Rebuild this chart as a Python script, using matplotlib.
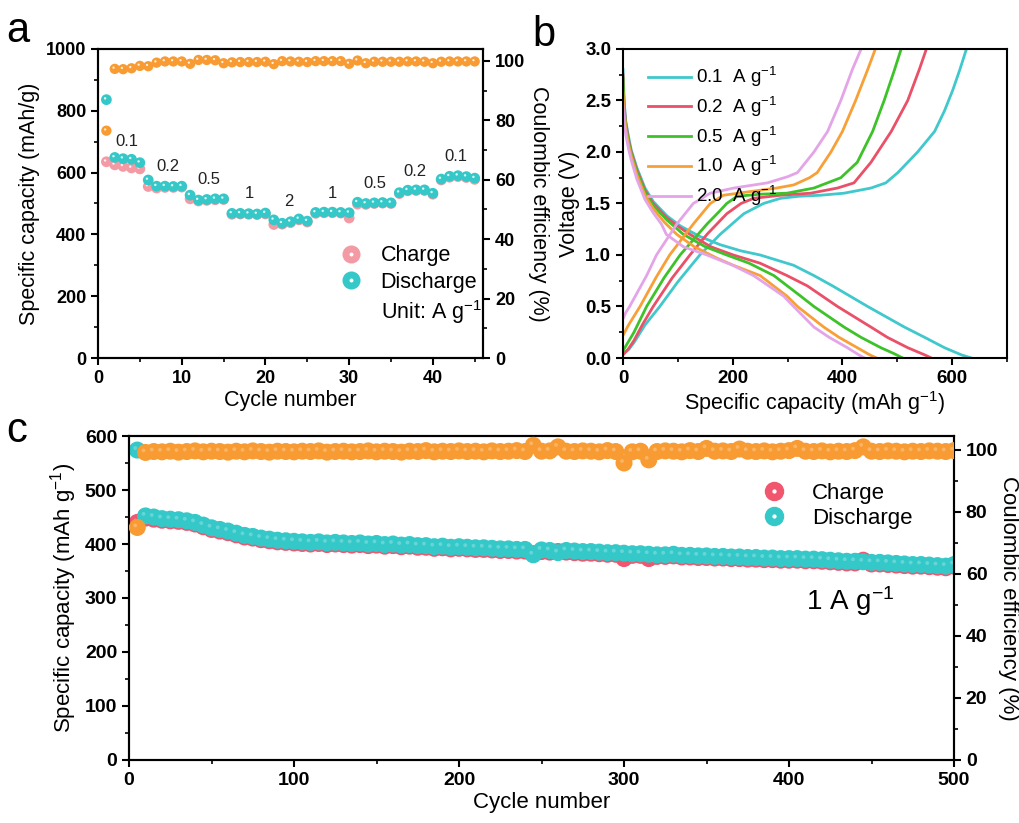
import matplotlib
matplotlib.use('Agg')
import matplotlib.pyplot as plt
from matplotlib.lines import Line2D
from matplotlib.legend_handler import HandlerTuple
from matplotlib.ticker import MultipleLocator, FormatStrFormatter
from matplotlib.transforms import offset_copy

plt.rcParams['font.family'] = ['Liberation Sans', 'DejaVu Sans']
plt.rcParams['mathtext.fontset'] = 'custom'
plt.rcParams['mathtext.rm'] = 'Liberation Sans'
plt.rcParams['mathtext.it'] = 'Liberation Sans:italic'
plt.rcParams['mathtext.bf'] = 'Liberation Sans:bold'

TEAL = '#35C8C8'
ORANGE = '#F89B32'
PINK = '#F49AA4'
RED = '#F0566E'

# ---- panel a: rate performance ----
cyc_a = list(range(1, 46))
dis_a = [836, 649, 645, 643, 632, 576, 556, 556, 555, 556,
         527, 511, 513, 515, 515, 468, 468, 467, 466, 469,
         447, 436, 441, 450, 443, 471, 472, 472, 471, 470,
         504, 500, 502, 503, 502, 535, 543, 544, 544, 533,
         579, 588, 590, 587, 582]
chg_a = [635, 625, 620, 615, 612, 555, 550, 552, 552, 553,
         515, 508, 510, 512, 513, 465, 466, 465, 464, 466,
         432, 433, 438, 447, 440, 468, 470, 470, 469, 453,
         498, 497, 500, 501, 500, 532, 541, 542, 542, 530,
         576, 585, 587, 584, 578]
ce_a = [76.5, 97.3, 97.2, 97.5, 98.3, 98.2, 99.4, 99.8, 99.8, 99.8,
        99.0, 100.3, 100.3, 100.2, 99.2, 99.5, 99.6, 99.6, 99.6, 99.7,
        98.9, 99.9, 99.8, 99.7, 99.6, 99.9, 99.9, 99.9, 99.9, 99.0,
        100.1, 99.2, 99.7, 99.7, 99.7, 99.7, 99.8, 99.8, 99.7, 99.2,
        99.7, 99.8, 99.8, 99.8, 99.8]
rate_labels = ['0.1', '0.2', '0.5', '1', '2', '1', '0.5', '0.2', '0.1']
rate_x = [3.4, 8.4, 13.3, 18.1, 22.8, 28.0, 33.1, 37.9, 42.7]
rate_y = [700, 619, 579, 533, 508, 531, 565, 605, 651]

# ---- panel b: charge/discharge profiles ----
rates_b = ['0.1', '0.2', '0.5', '1.0', '2.0']
colors_b = ['#40C8CC', '#EA5068', '#3EC22A', '#F8A038', '#E4A4E8']
dis_cap_01 = [0, 2, 5, 10, 15, 25, 40, 55, 80, 105, 140, 177, 215, 250, 311, 348, 382, 446, 513, 550, 586, 617, 635]
dis_v_01 = [2.8, 2.5, 2.3, 2.15, 2.02, 1.85, 1.65, 1.52, 1.38, 1.28, 1.18, 1.1, 1.04, 1.0, 0.9, 0.8, 0.7, 0.5, 0.3, 0.2, 0.1, 0.03, 0.0]
dis_cap_02 = [0, 2, 5, 10, 15, 25, 40, 55, 80, 100, 122, 160, 201, 250, 299, 336, 391, 452, 482, 519, 550, 562]
dis_v_02 = [2.75, 2.45, 2.28, 2.12, 2.0, 1.83, 1.63, 1.5, 1.36, 1.28, 1.2, 1.08, 1.0, 0.92, 0.8, 0.7, 0.5, 0.3, 0.2, 0.1, 0.03, 0.0]
dis_cap_05 = [0, 2, 5, 10, 15, 25, 40, 55, 80, 110, 150, 189, 230, 275, 324, 348, 403, 434, 470, 495, 510]
dis_v_05 = [2.72, 2.42, 2.25, 2.1, 1.98, 1.81, 1.61, 1.48, 1.34, 1.2, 1.08, 1.0, 0.92, 0.8, 0.6, 0.5, 0.3, 0.2, 0.1, 0.04, 0.0]
dis_cap_10 = [0, 2, 5, 10, 15, 25, 40, 55, 75, 98, 130, 171, 201, 250, 299, 318, 366, 394, 427, 450, 462]
dis_v_10 = [2.58, 2.38, 2.22, 2.07, 1.96, 1.78, 1.58, 1.45, 1.32, 1.2, 1.08, 0.97, 0.9, 0.8, 0.6, 0.5, 0.3, 0.2, 0.1, 0.03, 0.0]
dis_cap_20 = [0, 2, 5, 10, 15, 25, 40, 55, 70, 79, 110, 153, 200, 238, 293, 311, 348, 376, 409, 430, 440]
dis_v_20 = [2.45, 2.3, 2.17, 2.03, 1.92, 1.74, 1.54, 1.41, 1.3, 1.2, 1.08, 1.0, 0.9, 0.8, 0.6, 0.5, 0.3, 0.2, 0.1, 0.03, 0.0]
chg_cap_01 = [0, 10, 20, 40, 67, 100, 140, 177, 220, 256, 287, 320, 360, 403, 452, 479, 501, 537, 568, 586, 601, 614, 626]
chg_v_01 = [0.04, 0.08, 0.15, 0.32, 0.5, 0.74, 1.0, 1.2, 1.4, 1.5, 1.55, 1.57, 1.58, 1.6, 1.65, 1.7, 1.8, 2.0, 2.2, 2.4, 2.6, 2.8, 3.0]
chg_cap_02 = [0, 10, 20, 35, 55, 90, 122, 153, 189, 215, 238, 287, 342, 391, 421, 452, 489, 519, 540, 553]
chg_v_02 = [0.03, 0.09, 0.17, 0.32, 0.5, 0.78, 1.0, 1.2, 1.4, 1.5, 1.55, 1.58, 1.6, 1.65, 1.7, 1.9, 2.2, 2.5, 2.8, 3.0]
chg_cap_05 = [0, 10, 20, 43, 75, 104, 153, 175, 189, 208, 250, 299, 348, 397, 427, 455, 476, 495, 507]
chg_v_05 = [0.07, 0.16, 0.25, 0.5, 0.78, 1.0, 1.3, 1.42, 1.5, 1.57, 1.59, 1.6, 1.65, 1.75, 1.9, 2.2, 2.5, 2.8, 3.0]
chg_cap_10 = [0, 10, 31, 60, 85, 128, 159, 183, 238, 280, 311, 340, 354, 379, 400, 424, 446, 460]
chg_v_10 = [0.22, 0.32, 0.5, 0.78, 1.0, 1.3, 1.5, 1.58, 1.62, 1.65, 1.68, 1.75, 1.8, 2.0, 2.2, 2.5, 2.8, 3.0]
chg_cap_20 = [0, 5, 12, 43, 61, 98, 128, 159, 202, 263, 300, 318, 348, 373, 397, 418, 434]
chg_v_20 = [0.38, 0.44, 0.5, 0.8, 1.0, 1.3, 1.5, 1.6, 1.65, 1.7, 1.76, 1.8, 2.0, 2.2, 2.5, 2.8, 3.0]
dis_caps = [dis_cap_01, dis_cap_02, dis_cap_05, dis_cap_10, dis_cap_20]
dis_vs = [dis_v_01, dis_v_02, dis_v_05, dis_v_10, dis_v_20]
chg_caps = [chg_cap_01, chg_cap_02, chg_cap_05, chg_cap_10, chg_cap_20]
chg_vs = [chg_v_01, chg_v_02, chg_v_05, chg_v_10, chg_v_20]

# ---- panel c: long cycling at 1 A/g (every 5th cycle) ----
cyc_c = list(range(5, 501, 5))
dis_c = [574, 452, 450, 447, 446, 445, 443, 440, 435, 430,
         427, 424, 420, 416, 414, 411, 409, 407, 406, 405,
         404, 403, 404, 402, 403, 402, 401, 402, 400, 401,
         399, 400, 398, 399, 397, 397, 395, 396, 394, 395,
         394, 393, 393, 392, 391, 391, 390, 390, 380, 389,
         388, 384, 388, 387, 386, 386, 385, 384, 384, 383,
         382, 382, 381, 380, 380, 381, 379, 379, 378, 378,
         377, 377, 376, 376, 375, 375, 374, 374, 373, 373,
         373, 372, 372, 371, 370, 369, 368, 368, 367, 366,
         366, 365, 364, 363, 362, 362, 361, 360, 359, 362]
chg_c = [440, 448, 446, 444, 443, 442, 440, 437, 432, 427,
         424, 421, 417, 413, 411, 408, 406, 404, 403, 402,
         401, 400, 401, 399, 400, 399, 398, 399, 397, 398,
         396, 397, 395, 396, 394, 394, 392, 393, 391, 392,
         391, 390, 390, 389, 388, 388, 387, 387, 382, 386,
         385, 386, 385, 384, 383, 383, 382, 381, 381, 373,
         379, 379, 373, 377, 377, 378, 376, 376, 375, 375,
         374, 374, 373, 373, 372, 372, 371, 371, 370, 370,
         370, 369, 369, 368, 367, 366, 365, 365, 370, 363,
         363, 362, 361, 360, 359, 359, 358, 357, 356, 359]
ce_c = [75.0, 99.2, 99.5, 99.4, 99.6, 99.3, 99.5, 99.7, 99.4, 99.6,
        99.5, 99.3, 99.6, 99.4, 99.7, 99.5, 99.3, 99.6, 99.5, 99.4,
        99.6, 99.5, 99.7, 99.3, 99.5, 99.6, 99.4, 99.5, 99.7, 99.4,
        99.6, 99.5, 99.3, 99.6, 99.5, 99.8, 99.4, 99.6, 99.5, 99.7,
        99.5, 99.6, 99.4, 99.7, 99.5, 99.6, 99.8, 99.5, 101.5, 99.6,
        99.7, 101.0, 99.6, 99.5, 99.7, 99.6, 99.4, 99.8, 99.5, 95.8,
        99.4, 99.6, 96.8, 99.5, 99.7, 99.6, 99.4, 99.8, 99.5, 100.5,
        99.6, 99.7, 99.5, 100.3, 99.6, 99.5, 99.7, 99.4, 99.6, 99.8,
        100.5, 99.6, 99.5, 99.7, 99.4, 99.6, 99.5, 99.8, 101.0, 99.6,
        99.5, 99.7, 99.6, 99.4, 99.6, 99.5, 99.7, 99.6, 99.5, 99.8]


def balls(ax, x, y, color, s, z, hl=0.85):
    # coloured sphere with a small off-centre highlight
    d = s ** 0.5
    ax.scatter(x, y, s=s, color=color, edgecolors='none', zorder=z)
    tr = offset_copy(ax.transData, fig=ax.figure, x=-0.12 * d, y=0.12 * d, units='points')
    ax.scatter(x, y, s=s * 0.05, color='white', alpha=hl, edgecolors='none', zorder=z + 0.1, transform=tr)


def ball_handle(color, ms):
    base = Line2D([], [], marker='o', linestyle='none', markersize=ms, color=color, markeredgewidth=0)
    hl = Line2D([], [], marker='o', linestyle='none', markersize=ms * 0.22, color='white', markeredgewidth=0)
    return (base, hl)


def style_axis(ax, labelsize):
    for sp in ax.spines.values():
        sp.set_linewidth(1.5)
    ax.tick_params(which='major', direction='out', length=5, width=1.5, labelsize=labelsize)
    ax.tick_params(which='minor', direction='out', length=3, width=1.2)
    for lab in ax.get_xticklabels() + ax.get_yticklabels():
        lab.set_fontweight('bold')


fig = plt.figure(figsize=(10.2, 8.23), dpi=100)

# ---------------- a ----------------
ax_a = fig.add_axes([0.0961, 0.565, 0.3775, 0.3755])
ax_a2 = ax_a.twinx()
balls(ax_a, cyc_a, chg_a, PINK, 60, 3)
balls(ax_a, cyc_a, dis_a, TEAL, 60, 4)
balls(ax_a2, cyc_a, ce_a, ORANGE, 55, 3)
ax_a.set_xlim(0, 46)
ax_a.set_ylim(0, 1000)
ax_a2.set_ylim(0, 104)
ax_a.xaxis.set_major_locator(MultipleLocator(10))
ax_a.xaxis.set_minor_locator(MultipleLocator(5))
ax_a.yaxis.set_major_locator(MultipleLocator(200))
ax_a.yaxis.set_minor_locator(MultipleLocator(100))
ax_a2.yaxis.set_major_locator(MultipleLocator(20))
ax_a2.yaxis.set_minor_locator(MultipleLocator(10))
ax_a.set_xlabel('Cycle number', fontsize=15.5, labelpad=2)
ax_a.set_ylabel('Specific capacity (mAh/g)', fontsize=15.5, labelpad=4)
ax_a2.set_ylabel('Coulombic efficiency (%)', fontsize=15.5, rotation=270, labelpad=17)
style_axis(ax_a, 13)
style_axis(ax_a2, 13)
for lab, x, y in zip(rate_labels, rate_x, rate_y):
    ax_a.text(x, y, lab, fontsize=12, ha='center', va='center', color='#222222')
leg_a = ax_a.legend([ball_handle(PINK, 13), ball_handle(TEAL, 13), Line2D([], [], linestyle='none')],
                    ['Charge', 'Discharge', 'Unit: A g$^{-1}$'],
                    handler_map={tuple: HandlerTuple(ndivide=1)},
                    loc='upper left', bbox_to_anchor=(0.6, 0.40), frameon=False,
                    fontsize=15.5, handlelength=1.0, handletextpad=0.9, labelspacing=0.25,
                    borderpad=0)
leg_a.set_zorder(10)

# ---------------- b ----------------
ax_b = fig.add_axes([0.6108, 0.565, 0.3765, 0.3755])
for i in range(len(rates_b)):
    ax_b.plot(dis_caps[i], dis_vs[i], color=colors_b[i], lw=2.0, label=rates_b[i] + '  A g$^{-1}$')
    ax_b.plot(chg_caps[i], chg_vs[i], color=colors_b[i], lw=2.0)
ax_b.set_xlim(0, 700)
ax_b.set_ylim(0, 3.0)
ax_b.xaxis.set_major_locator(MultipleLocator(200))
ax_b.xaxis.set_minor_locator(MultipleLocator(100))
ax_b.yaxis.set_major_locator(MultipleLocator(0.5))
ax_b.yaxis.set_minor_locator(MultipleLocator(0.25))
ax_b.yaxis.set_major_formatter(FormatStrFormatter('%.1f'))
ax_b.set_xlabel('Specific capacity (mAh g$^{-1}$)', fontsize=15.5, labelpad=2)
ax_b.set_ylabel('Voltage (V)', fontsize=15.5, labelpad=4)
style_axis(ax_b, 13.5)
ax_b.legend(loc='upper left', bbox_to_anchor=(0.03, 0.99), frameon=False, fontsize=13.5,
            handlelength=2.3, handletextpad=0.3, labelspacing=0.3, borderpad=0.2)

# ---------------- c ----------------
ax_c = fig.add_axes([0.1265, 0.0766, 0.8088, 0.3936])
ax_c2 = ax_c.twinx()
balls(ax_c, cyc_c, chg_c, RED, 150, 3, hl=0.25)
balls(ax_c, cyc_c, dis_c, TEAL, 150, 4, hl=0.25)
balls(ax_c2, cyc_c, ce_c, ORANGE, 150, 3, hl=0.25)
ax_c.set_xlim(0, 500)
ax_c.set_ylim(0, 600)
ax_c2.set_ylim(0, 104.5)
ax_c.xaxis.set_major_locator(MultipleLocator(100))
ax_c.xaxis.set_minor_locator(MultipleLocator(50))
ax_c.yaxis.set_major_locator(MultipleLocator(100))
ax_c.yaxis.set_minor_locator(MultipleLocator(50))
ax_c2.yaxis.set_major_locator(MultipleLocator(20))
ax_c2.yaxis.set_minor_locator(MultipleLocator(10))
ax_c.set_xlabel('Cycle number', fontsize=16, labelpad=2)
ax_c.set_ylabel('Specific capacity (mAh g$^{-1}$)', fontsize=16, labelpad=4)
ax_c2.set_ylabel('Coulombic efficiency (%)', fontsize=16, rotation=270, labelpad=15)
style_axis(ax_c, 14)
style_axis(ax_c2, 14)
ax_c.text(0.82, 0.49, '1 A g$^{-1}$', transform=ax_c.transAxes, fontsize=20, va='center')
leg_c = ax_c.legend([ball_handle(RED, 14), ball_handle(TEAL, 14)], ['Charge', 'Discharge'],
                    handler_map={tuple: HandlerTuple(ndivide=1)},
                    loc='upper left', bbox_to_anchor=(0.755, 0.89), frameon=False,
                    fontsize=16, handlelength=1.0, handletextpad=1.2, labelspacing=0.2,
                    borderpad=0)
leg_c.set_zorder(10)

# panel letters
fig.text(0.006, 0.962, 'a', fontsize=30, va='center')
fig.text(0.522, 0.958, 'b', fontsize=30, va='center')
fig.text(0.006, 0.476, 'c', fontsize=30, va='center')

fig.savefig('out.png', dpi=100)
